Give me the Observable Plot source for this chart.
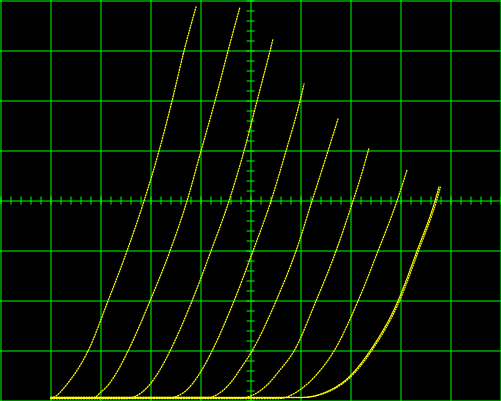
<!DOCTYPE html>
<html>
<head>
<meta charset="utf-8">
<script src="https://cdn.jsdelivr.net/npm/d3@7"></script>
<script src="https://cdn.jsdelivr.net/npm/@observablehq/plot@0.6"></script>
<style>
  html, body { margin: 0; padding: 0; background: #000; }
  #chart svg { display: block; }
</style>
</head>
<body>
<div id="chart"></div>
<script>
// Screen divisions: 10 horizontal, 8 vertical
const gridX = [0, 1, 2, 3, 4, 5, 6, 7, 8, 9, 10];
const gridY = [0, 1, 2, 3, 4, 5, 6, 7, 8];
const minorX = d3.range(0, 10.001, 0.2);
const minorY = d3.range(0, 8.001, 0.2);

// Traces, [x (div), y (div)]
const curve1 = [[1.00,0.06],[1.10,0.10],[1.24,0.24],[1.40,0.44],[1.60,0.74],[1.74,1.00],[2.14,2.00],[2.52,3.00],[2.86,4.00],[3.16,5.00],[3.42,6.00],[3.66,7.00],[3.90,7.88]];
const curve2 = [[1.00,0.06],[1.84,0.06],[2.00,0.18],[2.16,0.34],[2.32,0.58],[2.54,1.00],[2.98,2.00],[3.38,3.00],[3.72,4.00],[4.00,5.00],[4.28,6.00],[4.54,7.00],[4.78,7.88]];
const curve3 = [[1.00,0.05],[2.50,0.05],[2.80,0.16],[3.00,0.36],[3.20,0.66],[3.38,1.00],[3.82,2.00],[4.20,3.00],[4.56,4.00],[4.86,5.00],[5.12,6.00],[5.38,7.00],[5.44,7.24]];
const curve4 = [[1.00,0.06],[3.34,0.06],[3.64,0.16],[3.84,0.36],[4.04,0.66],[4.22,1.00],[4.66,2.00],[5.04,3.00],[5.40,4.00],[5.70,5.00],[5.98,6.00],[6.06,6.34]];
const curve5 = [[1.00,0.07],[4.14,0.07],[4.40,0.18],[4.62,0.40],[4.80,0.66],[5.02,1.00],[5.50,2.00],[5.90,3.00],[6.22,4.00],[6.54,5.00],[6.74,5.64]];
const curve6 = [[1.00,0.06],[4.80,0.06],[5.04,0.12],[5.30,0.30],[5.58,0.62],[5.86,1.00],[6.30,2.00],[6.70,3.00],[7.04,4.00],[7.20,4.50],[7.36,5.06]];
const curve7 = [[1.00,0.05],[5.56,0.05],[6.00,0.24],[6.34,0.56],[6.66,1.00],[7.14,2.00],[7.54,3.00],[7.92,4.00],[8.12,4.62]];
const curve8 = [[1.00,0.07],[6.00,0.07],[6.40,0.14],[6.70,0.28],[6.94,0.46],[7.16,0.70],[7.38,1.00],[7.94,2.00],[8.32,3.00],[8.68,4.00],[8.76,4.28]];

const thinCurves = [curve1, curve2, curve3, curve4, curve5, curve6, curve7];

const green = "#00ff00";
const yellow = "#ffff00";

const chart = Plot.plot({
  width: 501,
  height: 401,
  margin: 0,
  style: { background: "#000", overflow: "visible" },
  x: { domain: [0, 10], range: [0.5, 500.5], axis: null },
  y: { domain: [0, 8], range: [400.5, 0.5], axis: null },
  marks: [
    Plot.ruleX(gridX, { stroke: green, strokeWidth: 1 }),
    Plot.ruleY(gridY, { stroke: green, strokeWidth: 1 }),
    Plot.ruleX(minorX, { x: d => d, y1: 4, y2: 4, insetTop: -4, insetBottom: -4, stroke: green, strokeWidth: 1 }),
    Plot.ruleY(minorY, { y: d => d, x1: 5, x2: 5, insetLeft: -4, insetRight: -4, stroke: green, strokeWidth: 1 }),
    ...thinCurves.map(c => Plot.line(c, {
      x: d => d[0], y: d => d[1], curve: "monotone-x",
      stroke: yellow, strokeWidth: 1.3, strokeDasharray: "1.1 1.6"
    })),
    Plot.line(curve8, {
      x: d => d[0], y: d => d[1], curve: "monotone-x",
      stroke: yellow, strokeWidth: 1.3, strokeDasharray: "1.3 1.2"
    }),
    Plot.line(curve8, {
      x: d => d[0], y: d => d[1], curve: "monotone-x", dx: 1.5,
      stroke: yellow, strokeWidth: 1.2, strokeDasharray: "1 1.6"
    })
  ]
});
document.getElementById("chart").appendChild(chart);
</script>
</body>
</html>
